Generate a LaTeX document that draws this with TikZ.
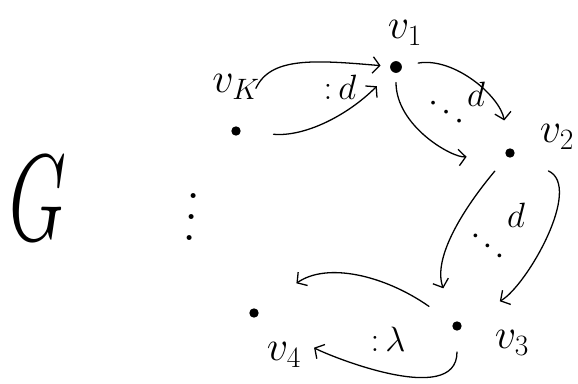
\RequirePackage{fix-cm}
\documentclass[tikz,border=0pt]{standalone}
\usetikzlibrary{arrows.meta}
\begin{document}
\begin{tikzpicture}[x=0.03cm,y=0.03cm,
		vert/.style={circle,fill,inner sep=0pt,minimum size=8pt},
		edge/.style={-{Straight Barb[length=6pt,width=14pt]},line width=1.1pt,line cap=round},
		vlab/.style={font=\fontsize{36}{36}\selectfont},
		elab/.style={font=\fontsize{30}{30}\selectfont,inner sep=0pt}]
		\useasboundingbox (0,0) rectangle (578,383);
		%draw vertices
		\node[vert] (vk) at (236,252) {};
		\node[vert,minimum size=10pt] (v1) at (396,316) {};
		\node[vert] (v2) at (510,230) {};
		\node[vert] (v3) at (457,57) {};
		\node[vert] (v4) at (254,70) {};
		%draw labels
		\node[vlab] (lk) at (236,296) {$v_K$};
		\node[vlab] (l1) at (405,350) {$v_1$};
		\node[vlab] (l2) at (557,246) {$v_2$};
		\node[vlab] (l3) at (512,40) {$v_3$};
		\node[vlab] (l4) at (284,28) {$v_4$};
		\node[font=\fontsize{105}{105}\selectfont,xscale=0.6] (g) at (38,185) {$G$};
		\node[font=\fontsize{40}{40}\selectfont,rotate=-95] (dots) at (190,166) {$\cdots$};
		%draw edges
		\draw[edge,shorten <=36pt,shorten >=8pt] (vk) to[out=65,in=175,looseness=1.2] (v1);
		\draw[edge,shorten <=28pt,shorten >=18pt] (vk) to[out=-5,in=225] (v1);
		\draw[edge,shorten <=14pt,shorten >=24pt] (v1) to[out=10,in=100] (v2);
		\draw[edge,shorten <=8pt,shorten >=33pt] (v1) to[out=-90,in=185] (v2);
		\draw[edge,shorten <=16pt,shorten >=30pt] (v2) to[out=230,in=110] (v3);
		\draw[edge,shorten <=32pt,shorten >=38pt] (v2) to[out=-25,in=30,looseness=1.1] (v3);
		\draw[edge,shorten <=25pt,shorten >=40pt] (v3) to[out=145,in=35,looseness=1.1] (v4);
		\draw[edge,shorten <=18pt,shorten >=55pt] (v3) to[out=-90,in=-30] (v4);
		%draw edge labels
		\node[elab] (ek1) at (340,296) {${:}\,d$};
		\node[elab,rotate=-35] (dots12) at (446,270) {$\cdots$};
		\node[elab] (d12) at (476,289) {$d$};
		\node[elab,rotate=-40] (dots23) at (487,136) {$\cdots$};
		\node[elab] (d23) at (516,168) {$d$};
		\node[elab] (e34) at (388,44) {${:}\,\lambda$};
\end{tikzpicture}
\end{document}
